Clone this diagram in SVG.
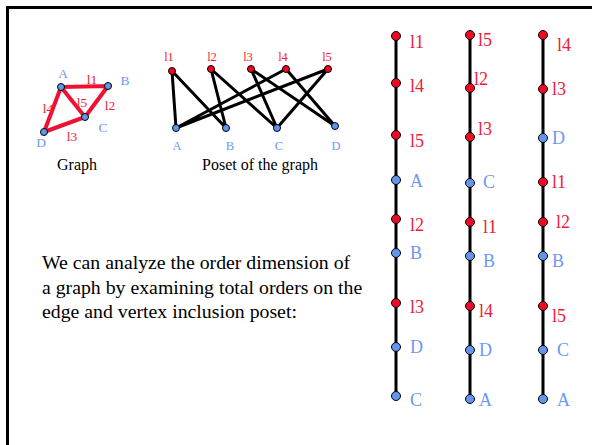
<svg xmlns="http://www.w3.org/2000/svg" width="592" height="445" viewBox="0 0 592 445">
<style>
text{font-family:"Liberation Serif","Times New Roman",serif}
.r{fill:#ee1c3a}
.b{fill:#6e97f5}
.s{font-size:13.5px}
.p{font-size:12.5px}
.c{font-size:18px}
.cap{font-size:16px;fill:#000}
.body{font-size:19.8px;fill:#000}
.nr{fill:#ee0a25;stroke:#000;stroke-width:1}
.nb{fill:#6495ed;stroke:#000;stroke-width:1}
.ge{stroke:#ee1133;stroke-width:4;fill:none;stroke-linecap:round}
.pe{stroke:#000;stroke-width:3;fill:none}
.ch{stroke:#000;stroke-width:3;fill:none}
</style>
<rect width="592" height="445" fill="#fff"/>
<path d="M7.5,445 V7.5 H592" fill="none" stroke="#000" stroke-width="3"/>

<g id="connectors">
  <path class="ge" d="M61,87 L108,86 L85,117 L44,132 L61,87 L85,117"/>
  <path class="pe" d="M172,71 L176,128 M172,71 L226,128 M211,69 L226,128 M211,69 L277,128 M251,69 L277,128 M251,69 L335,126 M286,69 L176,128 M286,69 L335,126 M328,69 L176,128 M328,69 L277,128"/>
  <path class="ch" d="M396,36 V396 M470,35 V399 M543,35 V399"/>
</g>

<g id="graph">
  <circle class="nb" cx="61" cy="87" r="3.5"/>
  <circle class="nb" cx="108" cy="86" r="3.5"/>
  <circle class="nb" cx="85" cy="117" r="3.5"/>
  <circle class="nb" cx="44" cy="132" r="3.5"/>
  <text class="s b" x="63" y="78" text-anchor="middle">A</text>
  <text class="s b" x="125" y="85" text-anchor="middle">B</text>
  <text class="s b" x="103" y="132" text-anchor="middle">C</text>
  <text class="s b" x="41" y="147" text-anchor="middle">D</text>
  <text class="s r" x="92" y="84" text-anchor="middle">l1</text>
  <text class="s r" x="110" y="110" text-anchor="middle">l2</text>
  <text class="s r" x="72" y="141" text-anchor="middle">l3</text>
  <text class="s r" x="48" y="113" text-anchor="middle">l4</text>
  <text class="s r" x="82" y="107" text-anchor="middle">l5</text>
  <text class="cap" x="77" y="170" text-anchor="middle">Graph</text>
</g>

<g id="poset">
  <circle class="nr" cx="172" cy="71" r="3.5"/>
  <circle class="nr" cx="211" cy="69" r="3.5"/>
  <circle class="nr" cx="251" cy="69" r="3.5"/>
  <circle class="nr" cx="286" cy="69" r="3.5"/>
  <circle class="nr" cx="328" cy="69" r="3.5"/>
  <circle class="nb" cx="176" cy="128" r="3.5"/>
  <circle class="nb" cx="226" cy="128" r="3.5"/>
  <circle class="nb" cx="277" cy="128" r="3.5"/>
  <circle class="nb" cx="335" cy="126" r="3.5"/>
  <text class="p r" x="169" y="61" text-anchor="middle">l1</text>
  <text class="p r" x="212" y="61" text-anchor="middle">l2</text>
  <text class="p r" x="248" y="61" text-anchor="middle">l3</text>
  <text class="p r" x="283" y="61" text-anchor="middle">l4</text>
  <text class="p r" x="327" y="61" text-anchor="middle">l5</text>
  <text class="p b" x="177" y="150" text-anchor="middle">A</text>
  <text class="p b" x="230" y="150" text-anchor="middle">B</text>
  <text class="p b" x="279" y="150" text-anchor="middle">C</text>
  <text class="p b" x="336" y="150" text-anchor="middle">D</text>
  <text class="cap" x="260" y="170" text-anchor="middle">Poset of the graph</text>
</g>

<g id="text">
  <text class="body" x="42" y="269">We can analyze the order dimension of</text>
  <text class="body" x="42" y="294">a graph by examining total orders on the</text>
  <text class="body" x="42" y="318">edge and vertex inclusion poset:</text>
</g>

<g id="chain1">
  <circle class="nr" cx="396" cy="36" r="4.5"/>
  <circle class="nr" cx="396" cy="83" r="4.5"/>
  <circle class="nr" cx="396" cy="135" r="4.5"/>
  <circle class="nb" cx="396" cy="180" r="4.5"/>
  <circle class="nr" cx="396" cy="219" r="4.5"/>
  <circle class="nb" cx="396" cy="253" r="4.5"/>
  <circle class="nr" cx="396" cy="303" r="4.5"/>
  <circle class="nb" cx="396" cy="347" r="4.5"/>
  <circle class="nb" cx="396" cy="396" r="4.5"/>
  <text class="c r" x="410" y="48">l1</text>
  <text class="c r" x="410" y="92">l4</text>
  <text class="c r" x="410" y="147">l5</text>
  <text class="c b" x="410" y="187">A</text>
  <text class="c r" x="410" y="231">l2</text>
  <text class="c b" x="410" y="259">B</text>
  <text class="c r" x="410" y="313">l3</text>
  <text class="c b" x="410" y="353">D</text>
  <text class="c b" x="410" y="406">C</text>
</g>

<g id="chain2">
  <circle class="nr" cx="470" cy="35" r="4.5"/>
  <circle class="nr" cx="470" cy="88" r="4.5"/>
  <circle class="nr" cx="470" cy="137" r="4.5"/>
  <circle class="nb" cx="470" cy="183" r="4.5"/>
  <circle class="nr" cx="470" cy="222" r="4.5"/>
  <circle class="nb" cx="470" cy="256" r="4.5"/>
  <circle class="nr" cx="470" cy="306" r="4.5"/>
  <circle class="nb" cx="470" cy="350" r="4.5"/>
  <circle class="nb" cx="470" cy="399" r="4.5"/>
  <text class="c r" x="478" y="46">l5</text>
  <text class="c r" x="474" y="85">l2</text>
  <text class="c r" x="478" y="135">l3</text>
  <text class="c b" x="483" y="188">C</text>
  <text class="c r" x="483" y="233">l1</text>
  <text class="c b" x="483" y="267">B</text>
  <text class="c r" x="479" y="317">l4</text>
  <text class="c b" x="479" y="356">D</text>
  <text class="c b" x="479" y="406">A</text>
</g>

<g id="chain3">
  <circle class="nr" cx="543" cy="35" r="4.5"/>
  <circle class="nr" cx="543" cy="89" r="4.5"/>
  <circle class="nb" cx="543" cy="138" r="4.5"/>
  <circle class="nr" cx="543" cy="182" r="4.5"/>
  <circle class="nr" cx="543" cy="222" r="4.5"/>
  <circle class="nb" cx="543" cy="256" r="4.5"/>
  <circle class="nr" cx="543" cy="306" r="4.5"/>
  <circle class="nb" cx="543" cy="350" r="4.5"/>
  <circle class="nb" cx="543" cy="399" r="4.5"/>
  <text class="c r" x="557" y="51">l4</text>
  <text class="c r" x="552" y="95">l3</text>
  <text class="c b" x="552" y="144">D</text>
  <text class="c r" x="552" y="188">l1</text>
  <text class="c r" x="556" y="228">l2</text>
  <text class="c b" x="552" y="267">B</text>
  <text class="c r" x="552" y="322">l5</text>
  <text class="c b" x="557" y="356">C</text>
  <text class="c b" x="557" y="406">A</text>
</g>
</svg>
